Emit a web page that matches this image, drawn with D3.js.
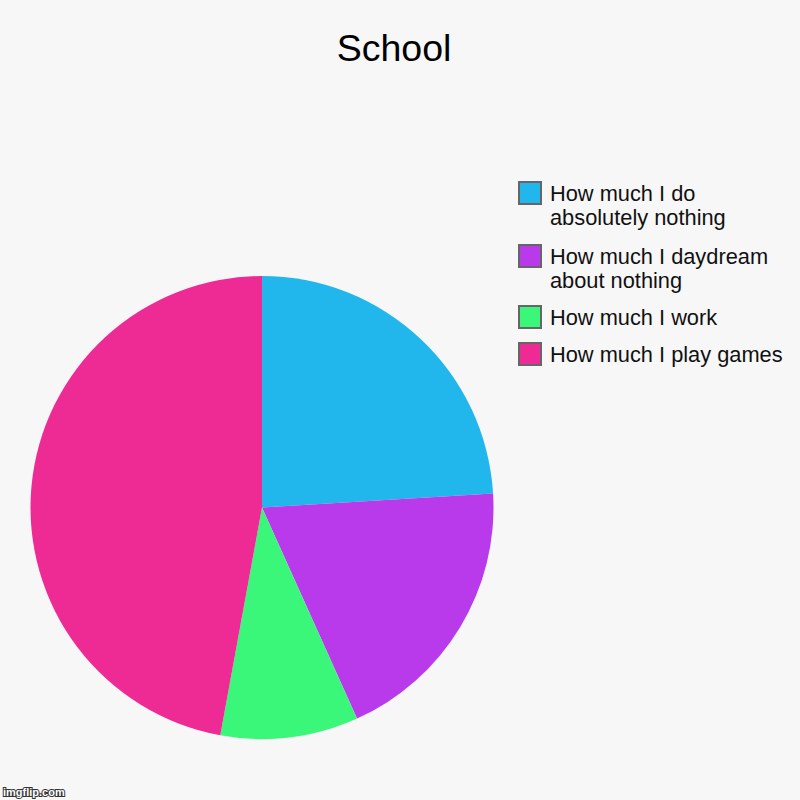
<!DOCTYPE html>
<html><head><meta charset="utf-8">
<script src="https://cdn.jsdelivr.net/npm/d3@7"></script>
<style>html,body{margin:0;padding:0;background:#f7f7f7;}</style>
</head><body>
<svg id="chart" width="800" height="800"></svg>
<script>
const title = "School";
const categories = ["How much I do absolutely nothing", "How much I daydream about nothing", "How much I work", "How much I play games"];
const legendLines = [["How much I do", "absolutely nothing"], ["How much I daydream", "about nothing"], ["How much I work"], ["How much I play games"]];
const values = [25, 20, 10, 49];
const colors = ["#21b7ec", "#b93aeb", "#3af77a", "#ee2a94"];

const svg = d3.select("#chart");
svg.append("rect").attr("width", 800).attr("height", 800).attr("fill", "#f7f7f7");
svg.append("text").attr("x", 394).attr("y", 61).attr("text-anchor", "middle")
  .attr("font-family", "Liberation Sans, Arial, sans-serif").attr("font-size", 37.5).attr("fill", "#000").text(title);

const cx = 262, cy = 507.5, r = 231.5;
const pie = d3.pie().sort(null).value(d => d)(values);
const arc = d3.arc().innerRadius(0).outerRadius(r);
const g = svg.append("g").attr("transform", `translate(${cx},${cy})`);
g.selectAll("path").data(pie).join("path").attr("d", arc).attr("fill", (d, i) => colors[i]);

const legendY = [181, 244, 305, 342];
const lg = svg.append("g");
categories.forEach((c, i) => {
  const item = lg.append("g");
  item.append("rect").attr("x", 519).attr("y", legendY[i] + 1).attr("width", 22).attr("height", 22)
    .attr("fill", colors[i]).attr("stroke", "#666").attr("stroke-width", 2);
  const t = item.append("text").attr("font-family", "Liberation Sans, Arial, sans-serif")
    .attr("font-size", 21.8).attr("fill", "#111");
  legendLines[i].forEach((ln, j) => {
    t.append("tspan").attr("x", 550).attr("y", legendY[i] + 20 + j * 23.7).text(ln);
  });
});

svg.append("text").attr("x", 3).attr("y", 796).attr("font-family", "Liberation Sans, Arial, sans-serif")
  .attr("font-size", 11).attr("font-weight", "bold").attr("fill", "#fff").attr("stroke", "#333").attr("stroke-width", 2)
  .attr("paint-order", "stroke").text("imgflip.com");
</script>
</body></html>
